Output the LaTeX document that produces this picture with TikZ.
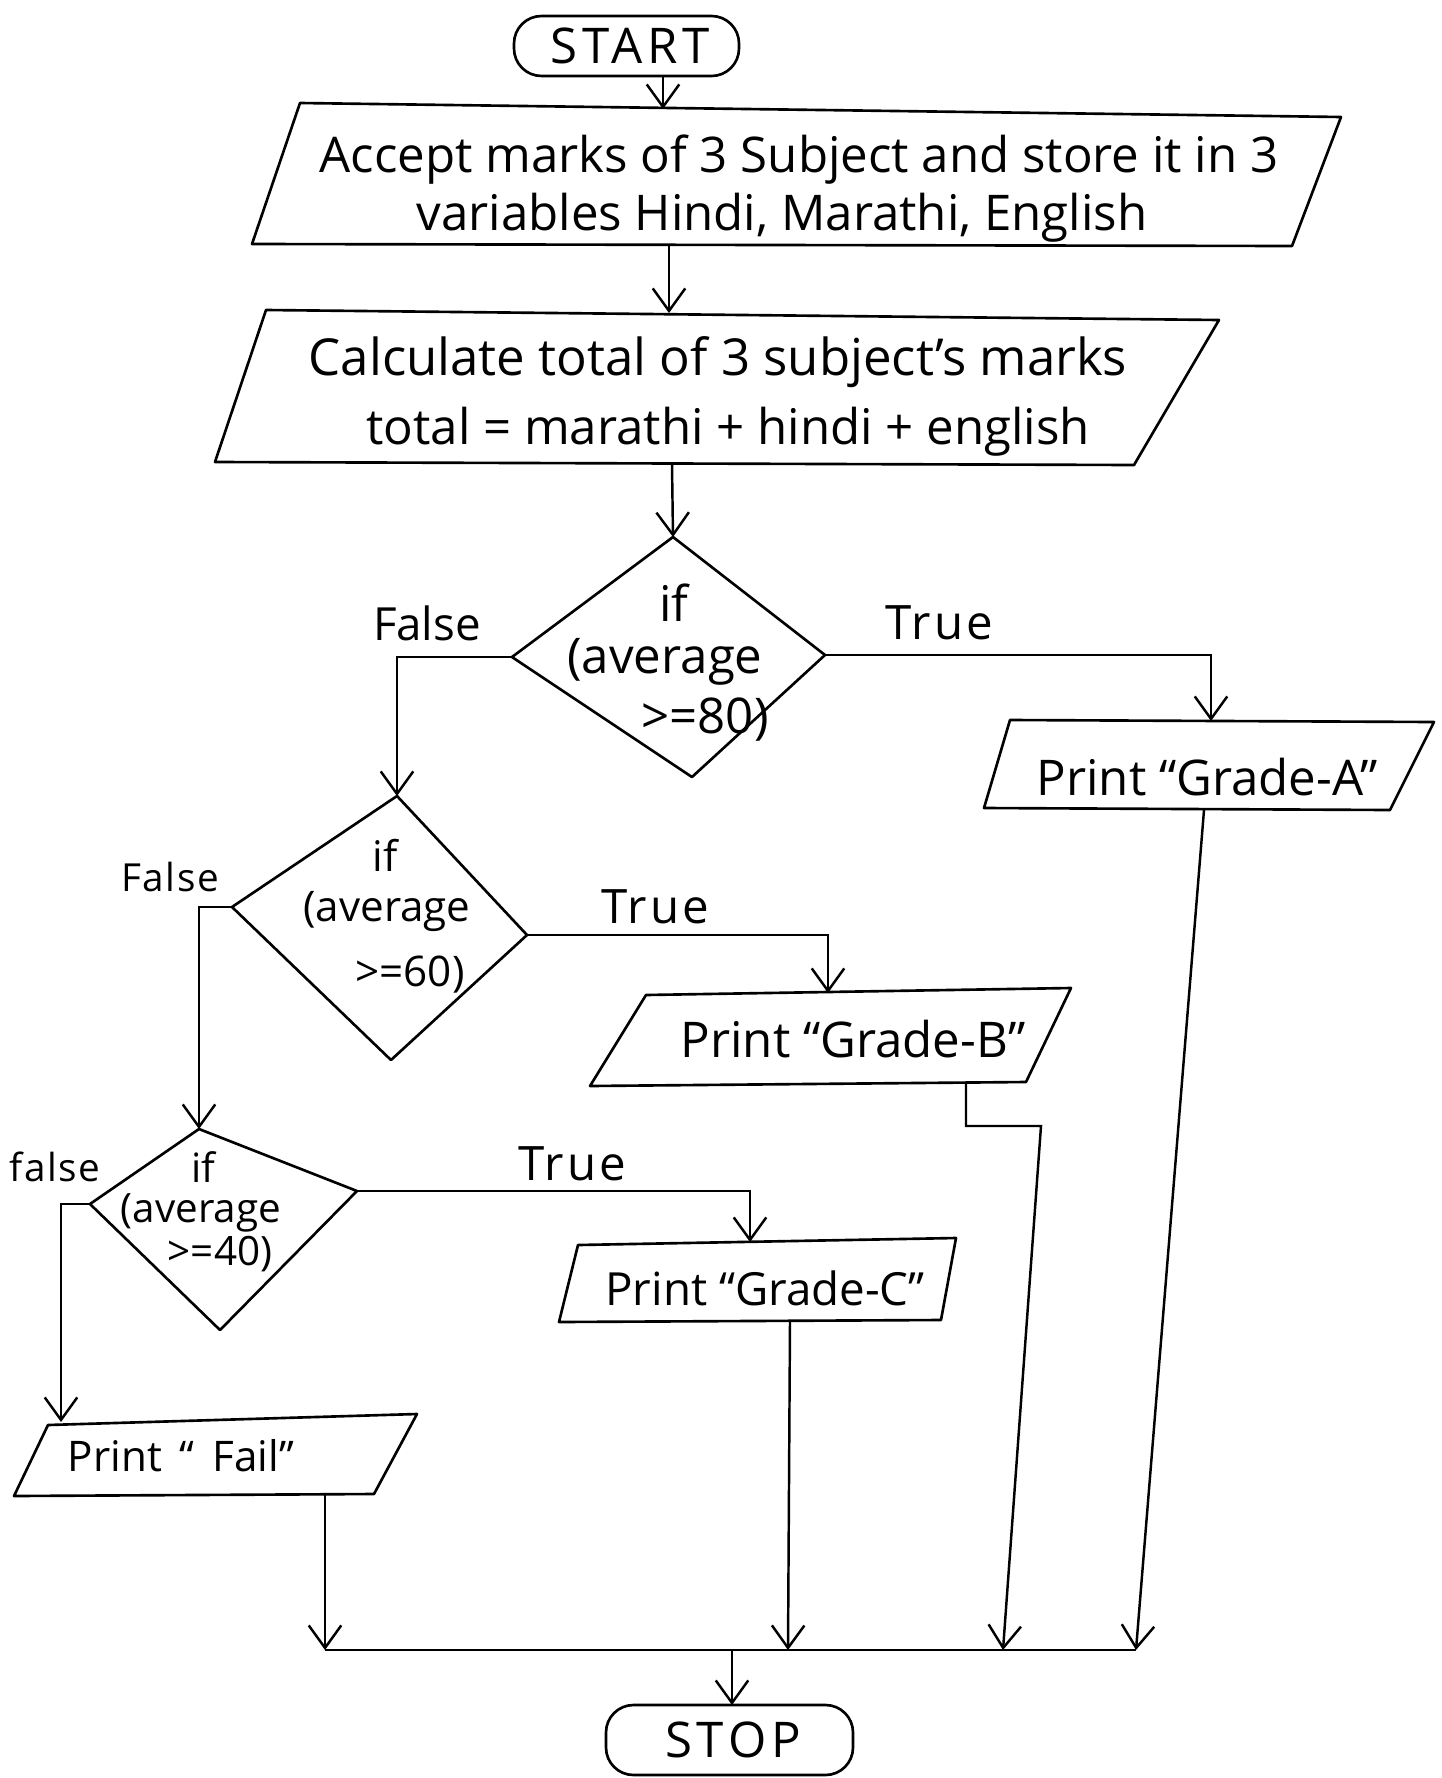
\documentclass[tikz,border=0pt]{standalone}
\usepackage{fontspec}
\setmainfont{Open Sans}
\usetikzlibrary{arrows.meta}
\begin{document}
\begin{tikzpicture}[x=0.02cm,y=-0.02cm,
  outline/.style={draw=black,line width=1.5pt,line join=round},
  terminal/.style={outline,rounded corners=0.55cm},
  plain/.style={draw=black,line width=1.4pt},
  flow/.style={plain,-{Straight Barb[length=0.45cm,width=0.65cm,line width=1.4pt]}},
  txt/.style={inner sep=0pt,font=\fontsize{28}{32}\selectfont},
  bigtxt/.style={inner sep=0pt,font=\fontsize{29}{34}\selectfont},
  prtxt/.style={inner sep=0pt,font=\fontsize{26}{30}\selectfont},
  midtxt/.style={inner sep=0pt,font=\fontsize{24}{28}\selectfont},
  smalltxt/.style={inner sep=0pt,font=\fontsize{23}{27}\selectfont},
  truelbl/.style={inner sep=0pt,font=\fontsize{27}{30}\selectfont\addfontfeature{LetterSpace=6}},
  lbl/.style={inner sep=0pt,font=\fontsize{26}{30}\selectfont},
  smalllbl/.style={inner sep=0pt,font=\fontsize{22}{26}\selectfont\addfontfeature{LetterSpace=4}},
  termtxt/.style={inner sep=0pt,font=\fontsize{28}{32}\selectfont\addfontfeature{LetterSpace=10}}]
\useasboundingbox (0,0) rectangle (1442,1778);

% ---------- START ----------
\draw[terminal] (514,16) rectangle (739,76);
\node[termtxt] (startT) at (630,46) {START};
\coordinate (startS) at (663,76);

% ---------- input ----------
\draw[outline] (300,103) -- (1341,117) -- (1292,246) -- (252,244) -- cycle;
\node[txt] (inT1) at (799,160) {Accept marks of 3 Subject and store it in 3};
\node[txt] (inT2) at (782,218) {variables Hindi, Marathi, English};
\coordinate (inN) at (663,109);
\coordinate (inS) at (669,245);

% ---------- calculation ----------
\draw[outline] (266,310) -- (1219,320) -- (1134,465) -- (215,462) -- cycle;
\node[bigtxt] (calcT1) at (718,362) {Calculate total of 3 subject's marks};
\node[txt] (calcT2) at (728,432) {total = marathi + hindi + english};
\coordinate (calcN) at (669,313);
\coordinate (calcS) at (672,464);

% ---------- decision: >= 80 ----------
\draw[outline] (673,537) -- (825,655) -- (692,777) -- (512,657) -- cycle;
\node[txt] (d1a) at (674,603) {if};
\node[txt] (d1b) at (665,662) {(average};
\node[txt] (d1c) at (705,720) {>=80)};
\coordinate (d1N) at (673,537);
\coordinate (d1E) at (825,655);
\coordinate (d1W) at (512,657);
\node[lbl] (f1) at (427,623) {False};
\node[truelbl] (t1) at (939,623) {True};

% ---------- Grade-A ----------
\draw[outline] (1010,720) -- (1434,722) -- (1390,810) -- (984,808) -- cycle;
\node[txt] (gaT) at (1207,777) {Print “Grade-A”};
\coordinate (gaN) at (1211,721);
\coordinate (gaS) at (1204,810);

% ---------- decision: >= 60 ----------
\draw[outline] (397,796) -- (527,935) -- (391,1060) -- (232,907) -- cycle;
\node[midtxt] (d2a) at (385,855) {if};
\node[midtxt] (d2b) at (387,912) {(average};
\node[midtxt] (d2c) at (410,975) {>=60)};
\coordinate (d2N) at (397,796);
\coordinate (d2E) at (527,935);
\coordinate (d2W) at (232,907);
\node[smalllbl] (f2) at (170,877) {False};
\node[truelbl] (t2) at (655,907) {True};

% ---------- Grade-B ----------
\draw[outline] (646,995) -- (1071,988) -- (1026,1082) -- (590,1086) -- cycle;
\node[txt] (gbT) at (853,1039) {Print “Grade-B”};
\coordinate (gbN) at (828,993);
\coordinate (gbS) at (966,1083);
\coordinate (gbTurn) at (1041,1126);

% ---------- decision: >= 40 ----------
\draw[outline] (199,1129) -- (357,1191) -- (220,1330) -- (90,1204) -- cycle;
\node[smalltxt] (d3a) at (203,1167) {if};
\node[smalltxt] (d3b) at (201,1213) {(average};
\node[smalltxt] (d3c) at (220,1254) {>=40)};
\coordinate (d3N) at (199,1129);
\coordinate (d3E) at (357,1191);
\coordinate (d3W) at (90,1204);
\node[smalllbl] (f3) at (55,1167) {false};
\node[truelbl] (t3) at (572,1164) {True};

% ---------- Grade-C ----------
\draw[outline] (578,1245) -- (956,1238) -- (941,1320) -- (559,1322) -- cycle;
\node[prtxt] (gcT) at (765,1288) {Print “Grade-C”};
\coordinate (gcN) at (750,1242);
\coordinate (gcS) at (790,1321);

% ---------- Fail ----------
\draw[outline] (48,1425) -- (417,1414) -- (374,1494) -- (14,1496) -- cycle;
\node[midtxt] (failT) at (181,1456) {Print \,“\, Fail”};
\coordinate (failN) at (61,1422);
\coordinate (failS) at (325,1494);

% ---------- STOP ----------
\draw[terminal] (606,1705) rectangle (853,1775);
\node[termtxt] (stopT) at (733,1740) {STOP};
\coordinate (stopN) at (732,1705);

% ---------- merge line ----------
\coordinate (mFail) at (325,1650);
\coordinate (mC) at (788,1650);
\coordinate (mB) at (1003,1650);
\coordinate (mA) at (1136,1650);
\coordinate (mStop) at (732,1650);

% ---------- connectors ----------
\draw[flow] (startS) -- (inN);
\draw[flow] (inS) -- (calcN);
\draw[flow] (calcS) -- (d1N);
\draw[flow] (d1E) -| (gaN);
\draw[flow] (d1W) -| (d2N);
\draw[flow] (d2E) -| (gbN);
\draw[flow] (d2W) -| (d3N);
\draw[flow] (d3E) -| (gcN);
\draw[flow] (d3W) -| (failN);

\draw[flow] (gaS) -- (mA);
\draw[flow] (gbS) |- (gbTurn) -- (mB);
\draw[flow] (gcS) -- (mC);
\draw[flow] (failS) -- (mFail);
\draw[plain] (mFail) -- (mA);
\draw[flow] (mStop) -- (stopN);
\end{tikzpicture}
\end{document}
